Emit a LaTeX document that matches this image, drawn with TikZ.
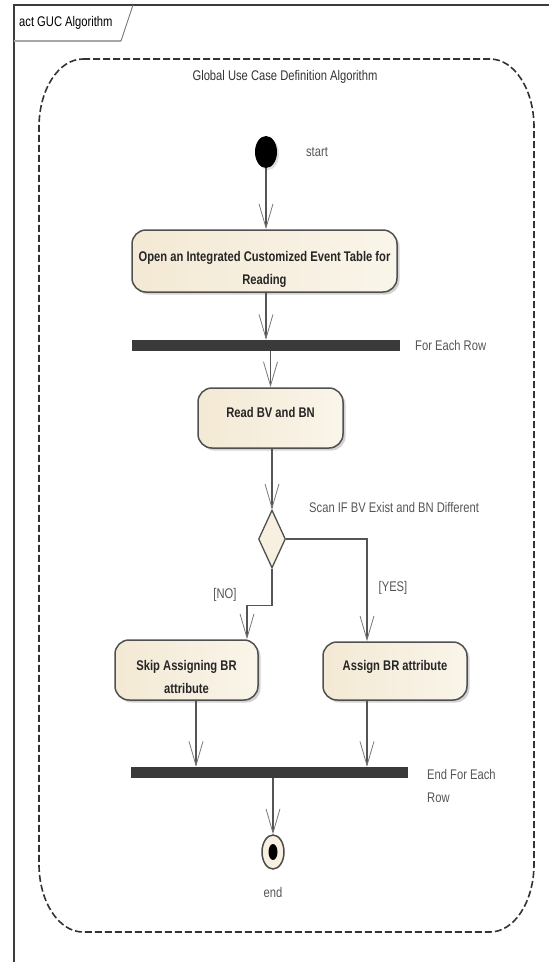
\documentclass[tikz,border=0pt]{standalone}
\usepackage{fontspec}
\setmainfont{Liberation Sans}[FakeStretch=0.8]
\usetikzlibrary{arrows.meta,shapes.geometric,shadows}

\definecolor{creamL}{RGB}{243,233,212}
\definecolor{creamR}{RGB}{250,245,234}
\definecolor{cream}{RGB}{247,240,224}
\definecolor{linegray}{RGB}{80,80,80}
\definecolor{flowgray}{RGB}{85,85,85}
\definecolor{tipgray}{RGB}{120,120,120}
\definecolor{bargray}{RGB}{58,58,58}
\definecolor{labelgray}{RGB}{85,85,85}
\definecolor{framegray}{RGB}{60,60,60}

\begin{document}
\begin{tikzpicture}[x=1pt,y=-1pt,
  action/.style={rectangle, rounded corners=14pt, draw=linegray, line width=1.5pt,
    left color=creamL, right color=creamR, align=center, inner sep=0pt,
    font=\bfseries\fontsize{14pt}{23pt}\selectfont, text=black!85,
    text height=10pt, text depth=11.5pt,
    drop shadow={shadow xshift=2.5pt, shadow yshift=-2.5pt, fill=black!35}},
  action2/.style={action, text height=50pt, text depth=4pt},
  syncbar/.style={rectangle, fill=bargray, minimum height=11pt, inner sep=0pt},
  flow/.style={draw=flowgray, line width=1.3pt,
    -{Straight Barb[length=24pt, width=14pt, line width=0.8pt, color=tipgray]}},
  lbl/.style={text=labelgray, font=\fontsize{14pt}{23pt}\selectfont, inner sep=0pt},
  region/.style={draw=black!80, line width=1.6pt, dash pattern=on 7pt off 3pt}]

\useasboundingbox (0,0) rectangle (549,962);

% diagram frame and its name tab
\draw[framegray, line width=1.8pt] (14,962) -- (14,5) -- (549,5);
\draw[black!35, line width=2pt] (14,41) -- (121,41);
\draw[black!55, line width=0.8pt] (121,41) -- (133,5);
\node[anchor=west, inner sep=0pt, font=\fontsize{14pt}{17pt}\selectfont] (tabname) at (19,23) {act GUC Algorithm};

% interruptible region
\draw[region] (83,59) -- (490,59)
  .. controls (514.3,59) and (534,89.4) .. (534,127) -- (534,864)
  .. controls (534,901.6) and (514.3,932) .. (490,932) -- (83,932)
  .. controls (58.7,932) and (39,901.6) .. (39,864) -- (39,127)
  .. controls (39,89.4) and (58.7,59) .. (83,59) -- cycle;
\node[lbl, text=black!80] (regionname) at (285,77) {Global Use Case Definition Algorithm};

% initial node
\node[ellipse, fill=black, minimum width=22pt, minimum height=32pt, inner sep=0pt,
  drop shadow={shadow xshift=2pt, shadow yshift=-2pt, fill=black!25}] (start) at (266,152) {};
\node[lbl] (startlbl) at (317,152) {start};

% actions
\node[action2, minimum width=265pt, minimum height=62pt] (open) at (264.5,261)
  {Open an Integrated Customized Event Table for\\Reading};
\node[syncbar, minimum width=268pt] (bar1) at (266,345.5) {};
\node[lbl, anchor=west] (forlbl) at (415,345) {For Each Row};

\node[action, minimum width=145pt, minimum height=60pt] (read) at (270.5,418) {Read BV and BN};

\node[diamond, draw=linegray, line width=1.3pt, fill=cream, minimum width=27pt,
  minimum height=58pt, inner sep=0pt] (dia) at (272,539) {};
\node[lbl, anchor=west] (scanlbl) at (309,507) {Scan IF BV Exist and BN Different};

\node[action2, minimum width=143pt, minimum height=60pt] (skip) at (186.5,670)
  {Skip Assigning BR\\attribute};
\node[action, minimum width=144pt, minimum height=58pt] (assign) at (395,671)
  {Assign BR attribute};

\node[lbl] (nolbl) at (225,595) {[NO]};
\node[lbl] (yeslbl) at (393,588) {[YES]};

\node[syncbar, minimum width=277pt] (bar2) at (269.5,772.5) {};
\node[lbl, anchor=west, align=left] (endforlbl) at (427,785.5) {End For Each\\Row};

% final node
\node[ellipse, draw=black!70, line width=1.5pt, fill=cream, minimum width=22pt,
  minimum height=34pt, inner sep=0pt] (end) at (273,852) {};
\node[ellipse, fill=black, minimum width=9pt, minimum height=16pt, inner sep=0pt] (enddot) at (end.center) {};
\node[lbl] (endlbl) at (273,892) {end};

% control flows
\draw[flow] (start.south) -- (start.south |- open.north);
\draw[flow] (open.south -| start) -- (start |- bar1.north);
\draw[flow] (read.north |- bar1.south) -- (read.north);
\draw[flow] (dia.north |- read.south) -- (dia.north);
\draw[flow] (dia.east) -| ([xshift=-28pt]assign.north);
\draw[flow] (dia.south) -- ++(0,37) -| ([xshift=60.5pt]skip.north);
\draw[flow] ([xshift=9.5pt]skip.south) -- ([xshift=9.5pt]skip.south |- bar2.north);
\draw[flow] ([xshift=-28pt]assign.south) -- ([xshift=-28pt]assign.south |- bar2.north);
\draw[flow] (end.north |- bar2.south) -- (end.north);

\end{tikzpicture}
\end{document}
